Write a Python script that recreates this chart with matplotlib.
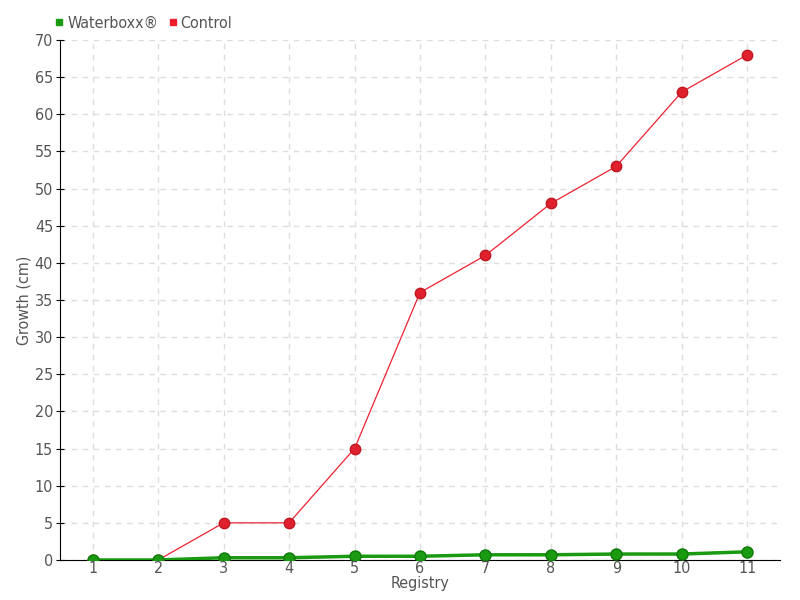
import matplotlib
matplotlib.use("Agg")
from matplotlib import pyplot as plt

registry = list(range(1, 12))
waterboxx = [0, 0, 0.3, 0.3, 0.5, 0.5, 0.7, 0.7, 0.8, 0.8, 1.1]
control = [0, 0, 5, 5, 15, 36, 41, 48, 53, 63, 68]

plt.rcParams['font.family'] = ['DejaVu Sans']
plt.rcParams['font.stretch'] = 'condensed'
txt = '#555555'

fig = plt.figure(figsize=(8, 6), dpi=100)
ax = fig.add_axes([0.075, 0.0667, 0.9, 0.8667])

ax.plot(registry, control, color='#ee2233', lw=0.9, marker='o', ms=7.5,
        mfc='#e0202c', mec='#c01822', zorder=3)
ax.plot(registry, waterboxx, color='#1a9a10', lw=2.5, marker='o', ms=8,
        mfc='#1a9a10', mec='#117a0a', zorder=4)

ax.set_xlim(0.5, 11.5)
ax.set_ylim(0, 70)
ax.set_xticks(registry)
ax.set_yticks(range(0, 71, 5))
ax.grid(True, color='#dddddd', ls=(0, (4, 4)), lw=1)
ax.set_axisbelow(True)
for s in ['top', 'right']:
    ax.spines[s].set_visible(False)
ax.spines['left'].set_color('black')
ax.spines['bottom'].set_color('black')
ax.tick_params(axis='y', direction='inout', length=6, colors='black', labelcolor=txt, labelsize=11.5, pad=2)
ax.tick_params(axis='x', length=0, labelcolor=txt, labelsize=11.5, pad=1)
ax.set_xlabel('Registry', color=txt, fontsize=11.5, labelpad=0)
ax.set_ylabel('Growth (cm)', color=txt, fontsize=11.5, labelpad=2)

h1 = plt.Line2D([], [], ls='none', marker='s', ms=5, color='#1a9a10')
h2 = plt.Line2D([], [], ls='none', marker='s', ms=5, color='#ee1c2c')
fig.legend([h1, h2], ['Waterboxx®', 'Control'], loc='upper left',
           bbox_to_anchor=(0.05, 0.998), ncol=2, frameon=False, fontsize=11.5,
           handlelength=0.6, handletextpad=0.2, columnspacing=0.6, labelcolor=txt)

fig.savefig('out.png', dpi=100)
